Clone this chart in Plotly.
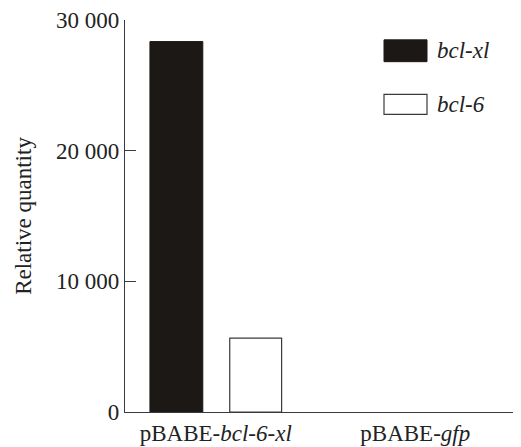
import plotly.graph_objects as go

categories = ["pBABE-<i>bcl-6-xl</i>", "pBABE-<i>gfp</i>"]
bcl_xl = [28350, 0]
bcl_6 = [5650, 0]
y_tickvals = [0, 10000, 20000, 30000]
y_ticktext = ["0", "10 000", "20 000", "30 000"]
series_names = ["<i>bcl-xl</i>", "<i>bcl-6</i>"]

FONT = "Liberation Serif"
LINE = "#3a3a3a"
DARK = "#1c1816"

# page body has an 8px margin, so the figure is laid out 8px smaller
OFF = 8
W, H = 521 - OFF, 447 - OFF
ml, mr, mt, mb = 125 - OFF, 0, 17 - OFF, 35
pw, ph = W - ml - mr, H - mt - mb
def px(x): return (x - OFF - ml) / pw
def py(y): return 1 - (y - OFF - mt) / ph

fig = go.Figure()
fig.add_trace(go.Bar(x=[0, 1], y=bcl_xl, name=series_names[0], width=0.265, offset=-0.33,
                     marker=dict(color=DARK, line=dict(color=DARK, width=[1, 0])),
                     showlegend=False))
fig.add_trace(go.Bar(x=[0, 1], y=bcl_6, name=series_names[1], width=0.26, offset=0.07,
                     marker=dict(color="white", line=dict(color=LINE, width=[1.2, 0])),
                     showlegend=False))

# custom legend (large swatches)
fig.add_shape(type="rect", xref="paper", yref="paper", x0=px(384), x1=px(427), y0=py(59), y1=py(37),
              fillcolor=DARK, line=dict(color=DARK, width=1))
fig.add_shape(type="rect", xref="paper", yref="paper", x0=px(384), x1=px(427), y0=py(112), y1=py(92),
              fillcolor="white", line=dict(color=LINE, width=1.2))
fig.add_annotation(xref="paper", yref="paper", x=px(435), y=py(48), text=series_names[0],
                   showarrow=False, xanchor="left", yanchor="middle", font=dict(family=FONT, size=23, color="#222"))
fig.add_annotation(xref="paper", yref="paper", x=px(435), y=py(102), text=series_names[1],
                   showarrow=False, xanchor="left", yanchor="middle", font=dict(family=FONT, size=23, color="#222"))

fig.update_layout(
    width=W, height=H,
    margin=dict(l=ml, r=mr, t=mt, b=mb),
    plot_bgcolor="white", paper_bgcolor="white",
    font=dict(family=FONT, size=22, color="#222"),
    barmode="overlay",
    xaxis=dict(range=[-0.455, 1.53], tickvals=[0, 1], ticktext=categories, showline=True,
               linecolor=LINE, linewidth=1.2, ticks="", showgrid=False, zeroline=False,
               tickfont=dict(family=FONT, size=23)),
    yaxis=dict(range=[0, 30000], tickvals=y_tickvals, ticktext=y_ticktext, showline=True,
               linecolor=LINE, linewidth=1.2, ticks="inside", ticklen=11, tickcolor=LINE,
               tickwidth=1.2, showgrid=False, zeroline=False, ticklabeloverflow="allow",
               title=dict(text="Relative quantity", font=dict(family=FONT, size=23), standoff=17),
               tickfont=dict(family=FONT, size=23)),
)

fig.write_html("out.html")
